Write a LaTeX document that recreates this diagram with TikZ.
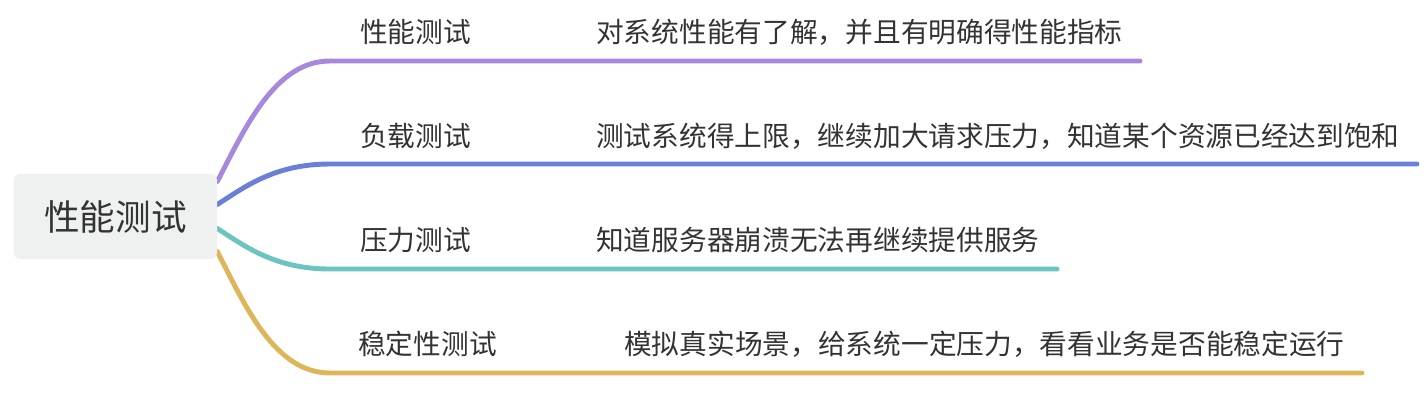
\documentclass[tikz,border=0pt]{standalone}
\usepackage{fontspec}
\setmainfont{Noto Sans CJK SC}
\definecolor{MapPurple}{HTML}{A689DC}
\definecolor{MapBlue}{HTML}{6A80D8}
\definecolor{MapTeal}{HTML}{6CC4C1}
\definecolor{MapGold}{HTML}{DDB65A}
\definecolor{MapRoot}{HTML}{EFF0F0}
\definecolor{MapText}{HTML}{333333}
\usetikzlibrary{calc,backgrounds}

\begin{document}
\begin{tikzpicture}[x=0.025cm,y=-0.025cm,
      root/.style={fill=MapRoot,rounded corners=4pt,minimum width=5.075cm,
                   minimum height=2.125cm,inner sep=0pt,text=MapText,
                   font=\fontsize{25.3}{30}\selectfont},
      topic/.style={anchor=west,inner sep=0pt,text=MapText,
                    font=\fontsize{19.7}{24}\selectfont},
      detail/.style={topic},
      branch/.style={line width=3.5pt,line cap=round}]
    \useasboundingbox (0,0) rectangle (1428,416);
    \node[root] (root) at (115.5,216.5) {性能测试};
    \node[topic]  (t1) at (360,32)  {性能测试};
    \node[detail] (d1) at (596,32)  {对系统性能有了解，并且有明确得性能指标};
    \node[topic]  (t2) at (360,136) {负载测试};
    \node[detail] (d2) at (596,136) {测试系统得上限，继续加大请求压力，知道某个资源已经达到饱和};
    \node[topic]  (t3) at (360,240) {压力测试};
    \node[detail] (d3) at (596,240) {知道服务器崩溃无法再继续提供服务};
    \node[topic]  (t4) at (358,344) {稳定性测试};
    \node[detail] (d4) at (624,344) {模拟真实场景，给系统一定压力，看看业务是否能稳定运行};
    % branch points on the root edge, bends and line ends
    \coordinate (s1) at ($(root.east)+(0,-35)$);
    \coordinate (s2) at ($(root.east)+(0,-12)$);
    \coordinate (s3) at ($(root.east)+(0,12)$);
    \coordinate (s4) at ($(root.east)+(0,35)$);
    \coordinate (k1) at (330,61);  \coordinate (e1) at (1140,61);
    \coordinate (k2) at (330,164); \coordinate (e2) at (1417,164);
    \coordinate (k3) at (330,269); \coordinate (e3) at (1057,269);
    \coordinate (k4) at (330,373); \coordinate (e4) at (1362,373);
    \begin{scope}[on background layer]
      \foreach \i/\col/\cy in {1/MapPurple/-54,2/MapBlue/-18,3/MapTeal/18,4/MapGold/55}
        \draw[branch,draw=\col] (s\i) .. controls +(28,\cy) and +(-55,0) .. (k\i) -- (e\i);
    \end{scope}
  \end{tikzpicture}
\end{document}
